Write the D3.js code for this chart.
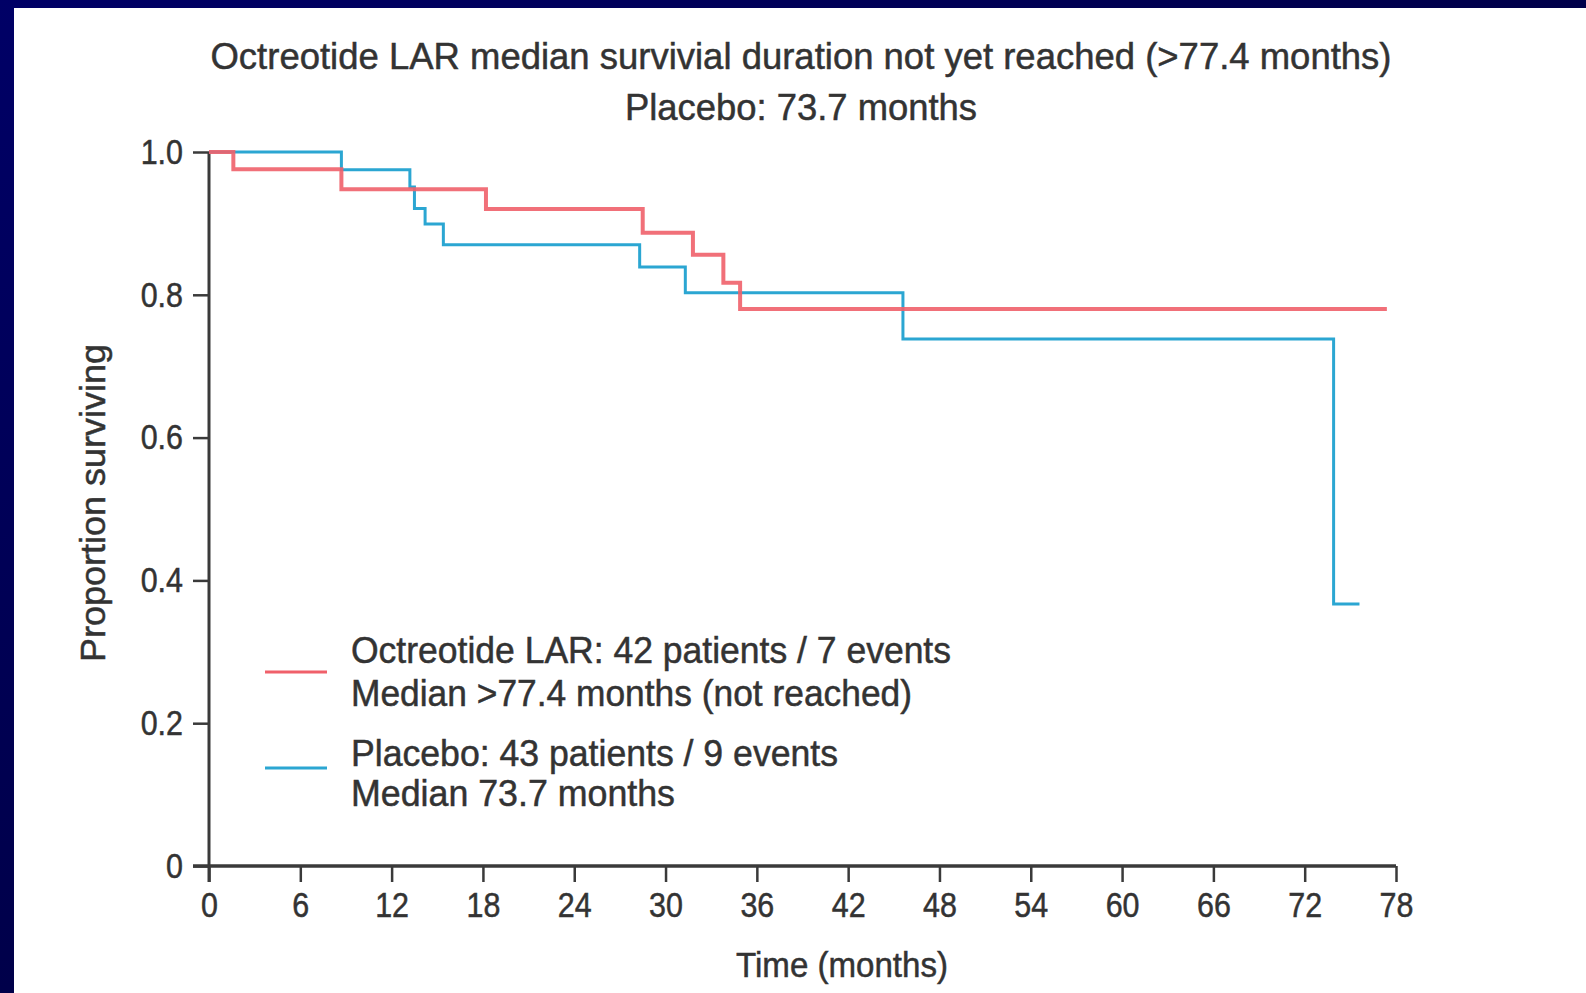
<!DOCTYPE html>
<html>
<head>
<meta charset="utf-8">
<script src="https://cdn.jsdelivr.net/npm/d3@7"></script>
<style>
  body { margin: 0; overflow: hidden; background: #000040; }
  svg { display: block; }
  text { font-family: "Liberation Sans", Arial, sans-serif; fill: #333; stroke: #333; stroke-width: 0.5px; }
</style>
</head>
<body>
<svg id="chart" width="1586" height="993"></svg>
<script>
// Kaplan-Meier steps (months, proportion surviving)
const octTimes = [0, 1.6, 8.7, 18.2, 28.5, 31.8, 33.8, 34.9, 77.4];
const octSurv  = [1.0, 0.976, 0.948, 0.920, 0.887, 0.856, 0.817, 0.780, 0.780];

const plaTimes = [0, 8.7, 13.2, 13.5, 14.2, 15.4, 28.3, 31.3, 45.6, 73.9, 75.6];
const plaSurv  = [1.0, 0.975, 0.951, 0.921, 0.899, 0.870, 0.839, 0.803, 0.738, 0.367, 0.367];

const xTicks = [0, 6, 12, 18, 24, 30, 36, 42, 48, 54, 60, 66, 72, 78];
const yTicks = [0, 0.2, 0.4, 0.6, 0.8, 1.0];

const titleLines = [
    'Octreotide LAR median survivial duration not yet reached (>77.4 months)',
    'Placebo: 73.7 months'
];
const legendItems = [
    { lines: ['Octreotide LAR: 42 patients / 7 events', 'Median >77.4 months (not reached)'], color: '#f0606a', width: 4 },
    { lines: ['Placebo: 43 patients / 9 events', 'Median 73.7 months'], color: '#2ba6d2', width: 3 }
];

const svg = d3.select('#chart');

// slide background
const defs = svg.append('defs');
const grad = defs.append('linearGradient')
    .attr('id', 'bg')
    .attr('x1', 0).attr('y1', 0).attr('x2', 1).attr('y2', 1);
grad.append('stop').attr('offset', '0%').attr('stop-color', '#000066');
grad.append('stop').attr('offset', '100%').attr('stop-color', '#00002e');
svg.append('rect').attr('width', 1586).attr('height', 993).attr('fill', 'url(#bg)');
svg.append('rect').attr('x', 14).attr('y', 8).attr('width', 1572).attr('height', 985).attr('fill', '#fff');

const x = d3.scaleLinear().domain([0, 78]).range([209, 1396]);
const y = d3.scaleLinear().domain([0, 1]).range([866, 152]);

// squeeze text to a narrow look
function fit(sel, w) {
    sel.attr('textLength', w).attr('lengthAdjust', 'spacingAndGlyphs');
}
function squeeze(sel, k) {
    sel.each(function () {
        const len = this.getComputedTextLength();
        d3.select(this).attr('textLength', len * k).attr('lengthAdjust', 'spacingAndGlyphs');
    });
}

// title
const titleWidths = [1181, 352];
const titleBase = [69, 120];
titleLines.forEach((t, i) => {
    svg.append('text')
        .attr('x', 801)
        .attr('y', titleBase[i])
        .attr('text-anchor', 'middle')
        .style('font-size', '37px')
        .text(t)
        .call(fit, titleWidths[i]);
});

// axes
const axisColor = '#3a3a3a';

const yAxis = svg.append('g')
    .attr('transform', `translate(${x(0)},0)`)
    .call(d3.axisLeft(y)
        .tickValues(yTicks)
        .tickSize(16)
        .tickPadding(10)
        .tickFormat(d => d === 0 ? '0' : d3.format('.1f')(d)));
yAxis.select('.domain').remove();
yAxis.selectAll('line').attr('stroke', axisColor).attr('stroke-width', 2.5);
yAxis.selectAll('text')
    .attr('fill', '#333')
    .style('font-size', '35px')
    .style('font-family', '"Liberation Sans", Arial, sans-serif')
    .call(squeeze, 0.87);

const xAxis = svg.append('g')
    .attr('transform', `translate(0,${y(0)})`)
    .call(d3.axisBottom(x)
        .tickValues(xTicks)
        .tickSize(16)
        .tickPadding(10));
xAxis.select('.domain').remove();
xAxis.selectAll('line').attr('stroke', axisColor).attr('stroke-width', 2.5);
xAxis.selectAll('text')
    .attr('fill', '#333')
    .attr('dy', '0.72em')
    .style('font-size', '35px')
    .style('font-family', '"Liberation Sans", Arial, sans-serif')
    .call(squeeze, 0.87);

// axis lines
svg.append('line')
    .attr('x1', x(0)).attr('x2', x(0))
    .attr('y1', y(1)).attr('y2', y(0) + 16)
    .attr('stroke', axisColor).attr('stroke-width', 3);
svg.append('line')
    .attr('x1', x(0) - 16).attr('x2', x(78))
    .attr('y1', y(0)).attr('y2', y(0))
    .attr('stroke', axisColor).attr('stroke-width', 3.5);

// axis titles
svg.append('text')
    .attr('x', 842)
    .attr('y', 977)
    .attr('text-anchor', 'middle')
    .style('font-size', '35px')
    .text('Time (months)')
    .call(fit, 212);

svg.append('text')
    .attr('transform', 'translate(105,503) rotate(-90)')
    .attr('text-anchor', 'middle')
    .style('font-size', '35px')
    .text('Proportion surviving')
    .call(fit, 318);

// survival curves
const line = d3.line()
    .x(d => x(d[0]))
    .y(d => y(d[1]))
    .curve(d3.curveStepAfter);

svg.append('path')
    .datum(d3.zip(plaTimes, plaSurv))
    .attr('d', line)
    .attr('fill', 'none')
    .attr('stroke', legendItems[1].color)
    .attr('stroke-width', legendItems[1].width);

svg.append('path')
    .datum(d3.zip(octTimes, octSurv))
    .attr('d', line)
    .attr('fill', 'none')
    .attr('stroke', legendItems[0].color)
    .attr('stroke-width', legendItems[0].width)
    .attr('stroke-opacity', 0.9);

// legend
const legendLineY = [672, 768];
const legendBase = [[663, 706], [766, 806]];
const legendWidths = [[600, 561], [487, 324]];
legendItems.forEach((item, i) => {
    svg.append('line')
        .attr('x1', 265).attr('x2', 327)
        .attr('y1', legendLineY[i]).attr('y2', legendLineY[i])
        .attr('stroke', item.color)
        .attr('stroke-width', 3);
    item.lines.forEach((t, j) => {
        svg.append('text')
            .attr('x', 351)
            .attr('y', legendBase[i][j])
            .style('font-size', '37px')
            .text(t)
            .call(fit, legendWidths[i][j]);
    });
});
</script>
</body>
</html>
